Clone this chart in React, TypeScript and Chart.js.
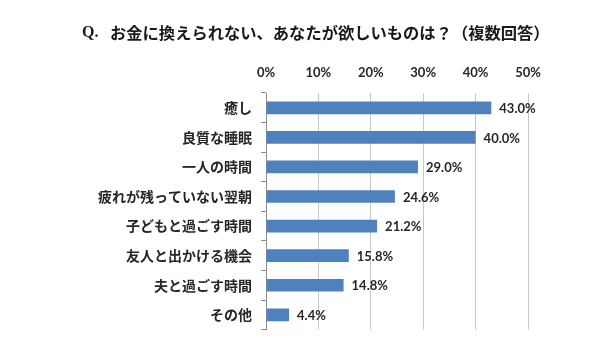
import React, { useEffect, useRef } from "react";
import { Chart, registerables } from "chart.js";
Chart.register(...registerables);

const titleQ = "Q.";
const titleText = "お金に換えられない、あなたが欲しいものは？（複数回答）";
const categories = [
  "癒し",
  "良質な睡眠",
  "一人の時間",
  "疲れが残っていない翌朝",
  "子どもと過ごす時間",
  "友人と出かける機会",
  "夫と過ごす時間",
  "その他",
];
const values = [43.0, 40.0, 29.0, 24.6, 21.2, 15.8, 14.8, 4.4];
const xMin = 0;
const xMax = 50;
const xStep = 10;

const barColor = "#4F81BD";
const textColor = "#262626";

const titlePlugin = {
  id: "customTitle",
  afterDraw(chart: any) {
    const ctx = chart.ctx;
    ctx.save();
    ctx.fillStyle = "#1a1a1a";
    ctx.textBaseline = "middle";
    ctx.textAlign = "left";
    ctx.font = "bold 16px 'Liberation Serif', serif";
    ctx.fillText(titleQ, 74, 25);
    ctx.font = "bold 16.3px 'Noto Sans CJK JP', sans-serif";
    ctx.fillText(titleText, 102, 25);
    ctx.restore();
  },
};

const valueLabelPlugin = {
  id: "valueLabels",
  afterDatasetsDraw(chart: any) {
    const ctx = chart.ctx;
    const meta = chart.getDatasetMeta(0);
    ctx.save();
    ctx.fillStyle = textColor;
    ctx.font = "bold 13px Lato, 'Liberation Sans', sans-serif";
    ctx.textBaseline = "middle";
    ctx.textAlign = "left";
    meta.data.forEach((bar: any, i: number) => {
      ctx.fillText(values[i].toFixed(1) + "%", bar.x + 8, bar.y + 1);
    });
    ctx.restore();
  },
};

export default function App() {
  const ref = useRef<HTMLCanvasElement | null>(null);
  useEffect(() => {
    if (!ref.current) return;
    const chart = new Chart(ref.current, {
      type: "bar",
      data: {
        labels: categories,
        datasets: [
          {
            data: values,
            backgroundColor: barColor,
            borderWidth: 0,
            barPercentage: 0.43,
            categoryPercentage: 1,
          },
        ],
      },
      options: {
        indexAxis: "y",
        animation: false,
        responsive: false,
        maintainAspectRatio: false,
        layout: { padding: { top: 0, right: 80, bottom: 15, left: 0 } },
        plugins: {
          legend: { display: false },
          title: { display: false },
          tooltip: { enabled: false },
        },
        scales: {
          x: {
            position: "top",
            min: xMin,
            max: xMax,
            afterFit(scale: any) {
              scale.height = 85;
            },
            ticks: {
              stepSize: xStep,
              padding: 12,
              color: textColor,
              font: { family: "Lato, 'Liberation Sans', sans-serif", size: 13, weight: "bold" },
              callback: (v: any) => v + "%",
            },
            grid: { color: "#c8c8c8", drawTicks: false, lineWidth: 1 },
            border: { display: false },
          },
          y: {
            afterFit(scale: any) {
              scale.width = 258;
            },
            ticks: {
              padding: 9,
              color: textColor,
              font: { family: "'Noto Sans CJK JP', sans-serif", size: 14, weight: "bold" },
            },
            grid: {
              drawOnChartArea: false,
              drawTicks: true,
              tickLength: 5,
              color: "#8c8c8c",
              offset: true,
            },
            border: { display: true, color: "#8c8c8c" },
          },
        },
      },
      plugins: [titlePlugin, valueLabelPlugin],
    });
    return () => chart.destroy();
  }, []);
  return (
    <div style={{ width: 600, height: 339 }}>
      <canvas ref={ref} width={600} height={339} style={{ display: "block" }} />
    </div>
  );
}
